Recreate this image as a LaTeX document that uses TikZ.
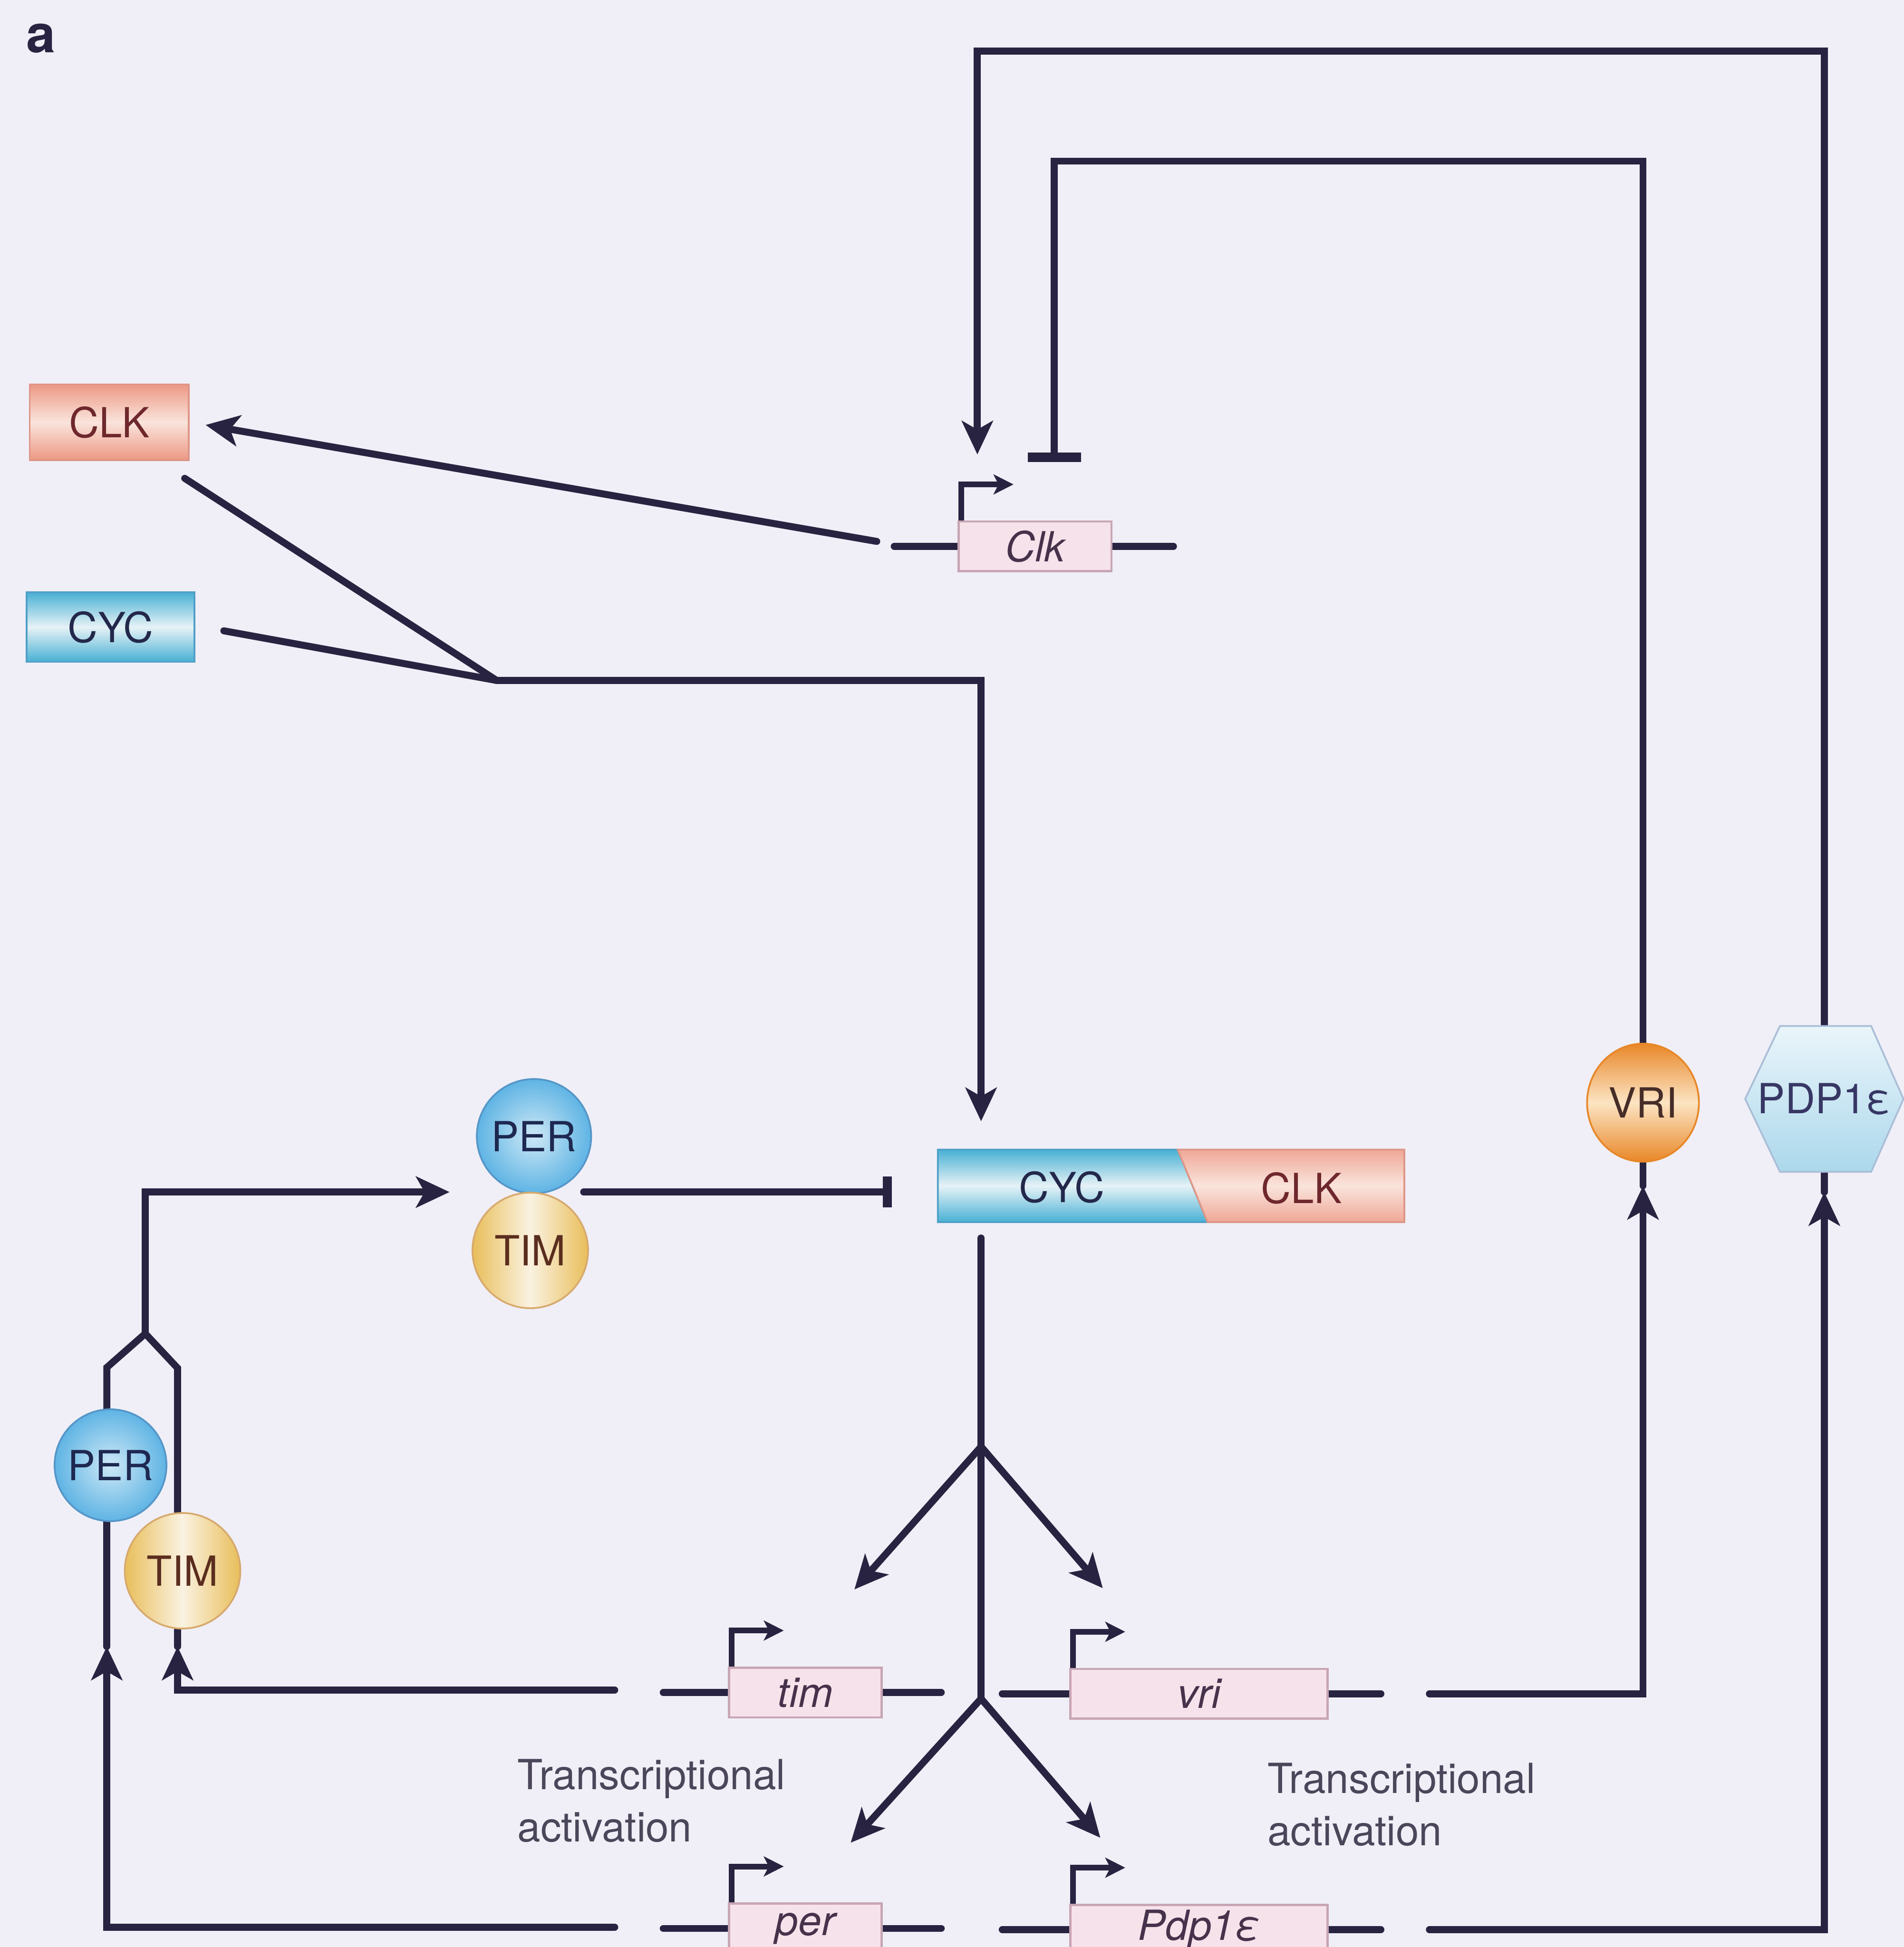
\documentclass[tikz,border=0pt]{standalone}
\usepackage{fontspec}
\setmainfont{TeX Gyre Heros}
\usetikzlibrary{arrows.meta,shapes.geometric}

\definecolor{bgcol}{RGB}{240,239,247}
\definecolor{linecol}{RGB}{40,35,65}
\definecolor{clkcol}{RGB}{236,152,132}
\definecolor{clklight}{RGB}{250,228,220}
\definecolor{clkedge}{RGB}{222,150,135}
\definecolor{clktxt}{RGB}{110,40,45}
\definecolor{cyccol}{RGB}{72,176,212}
\definecolor{cyclight}{RGB}{230,242,246}
\definecolor{cycedge}{RGB}{80,160,200}
\definecolor{cyctxt}{RGB}{35,40,75}
\definecolor{genefill}{RGB}{246,226,234}
\definecolor{genedraw}{RGB}{200,165,180}
\definecolor{genetxt}{RGB}{70,50,75}
\definecolor{percol}{RGB}{95,180,228}
\definecolor{perlight}{RGB}{205,232,246}
\definecolor{peredge}{RGB}{85,150,200}
\definecolor{pertxt}{RGB}{30,40,80}
\definecolor{timcol}{RGB}{232,190,90}
\definecolor{timlight}{RGB}{250,242,225}
\definecolor{timedge}{RGB}{215,170,110}
\definecolor{timtxt}{RGB}{90,45,30}
\definecolor{vricol}{RGB}{232,135,40}
\definecolor{vrilight}{RGB}{252,228,195}
\definecolor{vritxt}{RGB}{70,45,40}
\definecolor{pdpcol}{RGB}{172,216,236}
\definecolor{pdplight}{RGB}{234,245,250}
\definecolor{pdpedge}{RGB}{170,190,215}
\definecolor{pdptxt}{RGB}{55,55,100}
\definecolor{txtcol}{RGB}{75,70,90}

\newcommand\labfont{\fontsize{9.5}{12}\selectfont}

\pgfdeclarelayer{bg}
\pgfdeclarelayer{lines}
\pgfdeclarelayer{fills}
\pgfsetlayers{bg,lines,fills,main}

\tikzset{
  conn/.style={draw=linecol, line width=1.6pt, line cap=round, line join=miter},
  arr/.style={conn, -{Stealth[length=0.27cm, width=0.25cm, inset=0.07cm]}},
  prom/.style={draw=linecol, line width=1.3pt, -{Stealth[length=0.16cm, width=0.16cm, inset=0.04cm]}},
  box/.style={rectangle, inner sep=0pt, line width=0.4pt, font=\labfont},
  gene/.style={rectangle, draw=genedraw, line width=0.5pt, fill=genefill, inner sep=0pt,
    minimum height=0.4cm, font=\labfont\itshape, text=genetxt},
  ball/.style={circle, inner sep=0pt, line width=0.4pt, font=\labfont},
}

\begin{document}
\begin{tikzpicture}[x=0.01cm, y=-0.01cm]
\useasboundingbox (0,0) rectangle (1533,1568);
\begin{pgfonlayer}{bg}
  \fill[bgcol] (0,0) rectangle (1533,1568);
\end{pgfonlayer}

% panel label
\node[font=\bfseries\fontsize{12}{14}\selectfont, text=linecol, inner sep=0pt] (panel) at (33,31) {a};

% free proteins
\node[box, minimum width=1.28cm, minimum height=0.61cm, draw=clkedge,
  top color=clkcol, bottom color=clkcol, middle color=clklight, text=clktxt] (clk) at (88,340) {CLK};
\node[box, minimum width=1.35cm, minimum height=0.56cm, draw=cycedge,
  top color=cyccol, bottom color=cyccol, middle color=cyclight, text=cyctxt] (cyc) at (89,505) {CYC};

% CYC-CLK complex
\node[box, minimum width=3.74cm, minimum height=0.57cm] (cmplx) at (943,955) {};
\shadedraw[top color=cyccol, bottom color=cyccol, middle color=cyclight, draw=cycedge, line width=0.4pt]
  (cmplx.north west) -- ([xshift=1.93cm]cmplx.north west) -- ([xshift=2.17cm]cmplx.south west)
  -- (cmplx.south west) -- cycle;
\shadedraw[top color=clkcol!85, bottom color=clkcol!85, middle color=clklight, draw=clkedge, line width=0.4pt]
  ([xshift=1.93cm]cmplx.north west) -- (cmplx.north east) -- (cmplx.south east)
  -- ([xshift=2.17cm]cmplx.south west) -- cycle;
\node[font=\labfont, text=cyctxt] (cmcyc) at (855,956) {CYC};
\node[font=\labfont, text=clktxt] (cmclk) at (1048,957) {CLK};

% PER-TIM complex
\node[ball, minimum size=0.92cm, draw=peredge, inner color=perlight, outer color=percol, text=pertxt] (perb) at (430,915) {PER};
\node[ball, minimum size=0.93cm, draw=timedge, left color=timcol, right color=timcol, middle color=timlight, text=timtxt] (timb) at (427,1007) {TIM};

% PER and TIM
\node[ball, minimum size=0.90cm, draw=peredge, inner color=perlight, outer color=percol, text=pertxt] (pers) at (89,1180) {PER};
\node[ball, minimum size=0.93cm, draw=timedge, left color=timcol, right color=timcol, middle color=timlight, text=timtxt] (tims) at (147,1265) {TIM};

% VRI and PDP1e
\node[ellipse, minimum width=0.90cm, minimum height=0.95cm, inner sep=0pt, draw=vricol, line width=0.4pt,
  top color=vricol, bottom color=vricol, middle color=vrilight, font=\labfont, text=vritxt] (vri) at (1323,888) {VRI};
\node[rectangle, minimum width=1.26cm, minimum height=1.16cm, inner sep=0pt,
  font=\labfont, text=pdptxt] (pdp) at (1469,885) {PDP1ε};
\begin{pgfonlayer}{fills}
  \shadedraw[top color=pdplight, bottom color=pdpcol, draw=pdpedge, line width=0.4pt]
    (pdp.west) -- ([xshift=0.28cm]pdp.north west) -- ([xshift=-0.26cm]pdp.north east) -- (pdp.east)
    -- ([xshift=-0.26cm]pdp.south east) -- ([xshift=0.28cm]pdp.south west) -- cycle;
\end{pgfonlayer}

% genes
\node[gene, minimum width=1.23cm] (gclk) at (833.5,440) {Clk};
\node[gene, minimum width=1.23cm] (gtim) at (648.5,1363) {tim};
\node[gene, minimum width=2.07cm] (gvri) at (965.5,1364) {vri};
\node[gene, minimum width=1.23cm] (gper) at (648.5,1553) {per};
\node[gene, minimum width=2.07cm] (gpdp) at (965.5,1554) {Pdp1ε};

% labels
\node[anchor=north west, align=left, inner sep=0pt, font=\labfont, text=txtcol] (tal) at (416,1416) {Transcriptional\\activation};
\node[anchor=north west, align=left, inner sep=0pt, font=\labfont, text=txtcol] (tar) at (1020,1419) {Transcriptional\\activation};

% free ends
\coordinate (clkleft) at (706,436);
\coordinate (jn) at (400,548);
\coordinate (cin) at (790,903);
\coordinate (cout) at (790,997);
\coordinate (fa) at (790,1165);
\coordinate (fb) at (790,1368);
\coordinate (ptout) at (470,960);
\coordinate (cbar) at (718,960);
\coordinate (clkup) at (787,366);
\coordinate (clkdn) at (849,372);
\coordinate (fork) at (117,1074);
\coordinate (ptin) at (362,960);
\coordinate (timout) at (495,1361);
\coordinate (perout) at (495,1552);
\coordinate (timtip) at (143,1326);
\coordinate (pertip) at (86,1326);
\coordinate (vriout) at (1151,1364);
\coordinate (pdpout) at (1151,1554);
\coordinate (vritip) at (1323,955);
\coordinate (pdptip) at (1469,960);

\begin{pgfonlayer}{lines}
  % DNA and promoters
  \foreach \g/\l/\r in {gclk/51/49, gtim/52/47, gvri/54/42, gper/52/47, gpdp/54/42} {
    \draw[conn] (\g.west) -- ++(-\l,0);
    \draw[conn] (\g.east) -- ++(\r,0);
    \draw[prom] ([xshift=0.03cm]\g.north west) -- ++(0,-29) -- ++(42,0);
  }

  % Clk -> CLK, CLK + CYC -> complex
  \draw[arr, shorten >=0.13cm] (clkleft) -- (clk.east);
  \draw[conn] ([shift={(-4,14)}]clk.south east) -- (jn);
  \draw[conn] ([shift={(23,3)}]cyc.east) -- (jn);
  \draw[arr] (jn) -| (cin);

  % complex -> targets
  \draw[conn] (cout) -- (fb);
  \draw[arr] (fa) -- (688,1280);
  \draw[arr] (fa) -- (888,1279);
  \draw[arr] (fb) -- (685,1484);
  \draw[arr] (fb) -- (886,1480);

  % PER-TIM inhibits complex
  \draw[conn, -{Bar[width=0.25cm, line width=2pt]}] (ptout) -- (cbar);

  % feedback on Clk
  \draw[arr] (pdp.north) -- ++(0,-785) -| (clkup);
  \draw[conn, -{Bar[width=0.43cm, line width=2.2pt]}] (vri.north) -- ++(0,-710) -| (clkdn);

  % tim and per products
  \draw[arr] (timout) -| (timtip);
  \draw[conn] (timtip) -- (tims.south -| timtip);
  \draw[arr] (perout) -| (pertip);
  \draw[conn] (pertip) -- (pers.south -| pertip);
  \draw[conn] (pers.north -| pertip) -- ++(0,-33) -- (fork);
  \draw[conn] (tims.north -| timtip) -- ++(0,-116) -- (fork);
  \draw[arr] (fork) |- (ptin);

  % vri and Pdp1e products
  \draw[arr] (vriout) -| (vritip);
  \draw[conn] (vritip) -- (vri.south);
  \draw[arr] (pdpout) -| (pdptip);
  \draw[conn] (pdptip) -- (pdp.south);
\end{pgfonlayer}
\end{tikzpicture}
\end{document}
